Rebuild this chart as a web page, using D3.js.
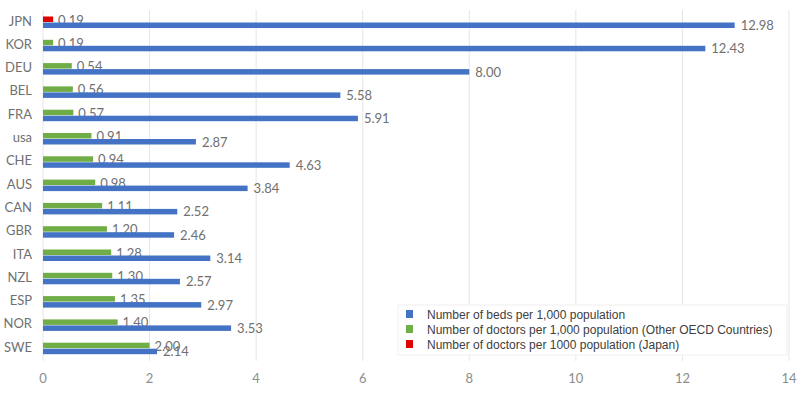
<!DOCTYPE html>
<html>
<head>
<meta charset="utf-8">
<script src="https://cdn.jsdelivr.net/npm/d3@7"></script>
<style>
  body { margin: 0; background: #fff; }
  svg { display: block; }
</style>
</head>
<body>
<script>
// data
const countries = ['JPN', 'KOR', 'DEU', 'BEL', 'FRA', 'usa', 'CHE', 'AUS', 'CAN', 'GBR', 'ITA', 'NZL', 'ESP', 'NOR', 'SWE'];
const beds = [12.98, 12.43, 8.00, 5.58, 5.91, 2.87, 4.63, 3.84, 2.52, 2.46, 3.14, 2.57, 2.97, 3.53, 2.14];
const doctors = [0.19, 0.19, 0.54, 0.56, 0.57, 0.91, 0.94, 0.98, 1.11, 1.20, 1.28, 1.30, 1.35, 1.40, 2.00];
const xTicks = [0, 2, 4, 6, 8, 10, 12, 14];
const legendLabels = [
  'Number of beds per 1,000 population',
  'Number of doctors per 1,000 population (Other OECD Countries)',
  'Number of doctors per 1000 population (Japan)'
];

const blue = '#4472c4';
const green = '#70ad47';
const red = '#e00000';

const width = 800, height = 399;

const svg = d3.select('body').append('svg')
  .attr('width', width)
  .attr('height', height)
  .style('font-family', 'Lato, "Open Sans", sans-serif');

const x = d3.scaleLinear().domain([0, 14]).range([43, 789]);
const y = d3.scaleBand().domain(countries).range([10.35, 359.85]);

const rows = countries.map((c, i) => ({ c, beds: beds[i], doc: doctors[i], japan: c === 'JPN' }));

// grid lines
svg.append('g')
  .selectAll('line')
  .data(xTicks)
  .join('line')
  .attr('x1', d => x(d))
  .attr('x2', d => x(d))
  .attr('y1', 10)
  .attr('y2', 361)
  .style('stroke', '#e6e6e6')
  .style('stroke-width', '1px');

// x tick labels
svg.append('g')
  .selectAll('text')
  .data(xTicks)
  .join('text')
  .attr('x', d => x(d))
  .attr('y', 383)
  .attr('text-anchor', 'middle')
  .attr('font-size', 13)
  .attr('fill', '#8c8c8c')
  .text(d => d);

// category labels
svg.append('g')
  .selectAll('text')
  .data(countries)
  .join('text')
  .attr('x', 32)
  .attr('y', d => y(d) + y.bandwidth() / 2 + 3.5)
  .attr('text-anchor', 'end')
  .attr('font-size', 13)
  .attr('fill', '#707070')
  .text(d => d);

const mid = d => y(d.c) + y.bandwidth() / 2;

// doctor value labels (drawn before the blue bars, which cover their bottom)
svg.append('g')
  .selectAll('text')
  .data(rows)
  .join('text')
  .attr('x', d => x(d.doc) + 5)
  .attr('y', d => mid(d) + 2.5)
  .attr('font-size', 13)
  .attr('fill', '#707070')
  .text(d => d.doc.toFixed(2));

// doctor bars
svg.append('g')
  .selectAll('rect')
  .data(rows)
  .join('rect')
  .attr('x', x(0))
  .attr('y', d => mid(d) - 5.5)
  .attr('width', d => x(d.doc) - x(0))
  .attr('height', 5.5)
  .attr('fill', d => d.japan ? red : green);

// bed bars
svg.append('g')
  .selectAll('rect')
  .data(rows)
  .join('rect')
  .attr('x', x(0))
  .attr('y', d => mid(d) + 0.5)
  .attr('width', d => x(d.beds) - x(0))
  .attr('height', 5.5)
  .attr('fill', blue);

// bed value labels
svg.append('g')
  .selectAll('text')
  .data(rows)
  .join('text')
  .attr('x', d => x(d.beds) + 6)
  .attr('y', d => mid(d) + 8)
  .attr('font-size', 13)
  .attr('fill', '#707070')
  .text(d => d.beds.toFixed(2));

// legend
const legend = svg.append('g');

legend.append('rect')
  .attr('x', 398)
  .attr('y', 305)
  .attr('width', 389)
  .attr('height', 50)
  .attr('fill', '#fff')
  .style('stroke', '#f0f0f0');

legend.selectAll('g')
  .data(legendLabels)
  .join('g')
  .attr('transform', (d, i) => `translate(406, ${310 + i * 15})`)
  .each(function (d, i) {
    const g = d3.select(this);
    g.append('rect')
      .attr('width', 7)
      .attr('height', 8)
      .attr('fill', [blue, green, red][i]);
    g.append('text')
      .attr('x', 21)
      .attr('y', 8.5)
      .attr('font-size', 12)
      .attr('font-family', '"Liberation Sans", Arial, sans-serif')
      .attr('fill', '#404040')
      .text(d);
  });
</script>
</body>
</html>
